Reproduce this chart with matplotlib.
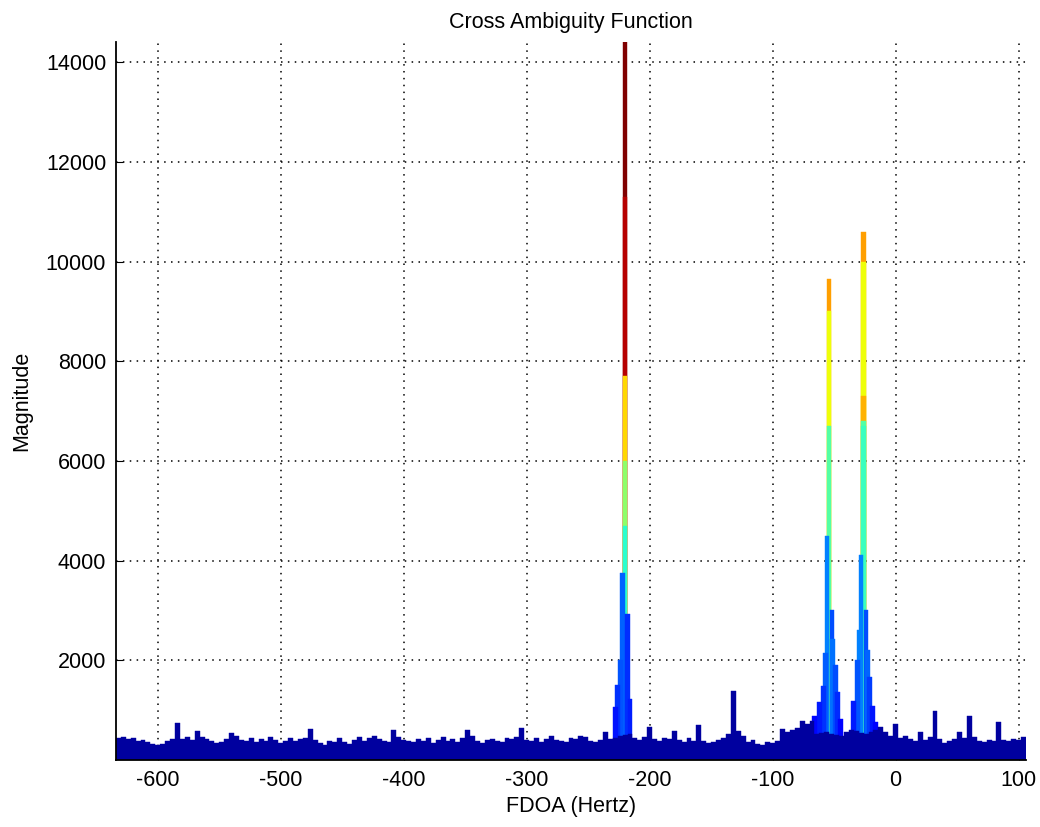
import numpy as np
import matplotlib.pyplot as plt
from matplotlib import colormaps

plt.rcParams['font.family'] = ['Liberation Sans', 'DejaVu Sans']
plt.rcParams['axes.unicode_minus'] = False

# noise floor, 4 Hz bins starting at -634 Hz
noise_start = -634
noise_step = 4
noise_mag = [
    440, 470, 420, 450, 380, 400, 360, 330, 300, 320, 380, 420, 750, 430, 470, 400, 580, 460, 420, 380,
    340, 360, 420, 540, 480, 400, 380, 440, 360, 420, 380, 460, 400, 340, 380, 440, 380, 420, 450, 620,
    400, 340, 300, 380, 360, 440, 360, 320, 400, 460, 380, 440, 480, 420, 380, 360, 600, 460, 400, 380,
    360, 420, 380, 440, 340, 400, 460, 380, 420, 360, 440, 600, 480, 380, 340, 400, 420, 380, 360, 440,
    420, 460, 640, 400, 380, 440, 360, 420, 480, 400, 380, 360, 440, 420, 480, 460, 380, 360, 400, 560,
    420, 440, 480, 500, 520, 440, 400, 460, 660, 420, 380, 440, 420, 580, 400, 360, 440, 380, 700, 380,
    340, 360, 400, 440, 520, 1380, 580, 480, 360, 400, 320, 300, 360, 340, 380, 620, 560, 600, 640, 780,
    720, 780, 520, 540, 560, 520, 500, 480, 560, 600, 580, 540, 520, 560, 600, 660, 560, 480, 720, 440,
    480, 420, 380, 560, 400, 460, 980, 420, 340, 380, 420, 560, 440, 880, 460, 380, 360, 400, 380, 760,
    400, 380, 420, 400, 460,
]

# skirts around the three peaks
skirt_freq = [-228, -226, -224, -216,
              -66, -62, -59, -57, -51, -49, -47, -45,
              -34, -31, -29, -23, -21, -19, -16]
skirt_mag = [1060, 1500, 2000, 1220,
             880, 1160, 1480, 2140, 2420, 1900, 1360, 820,
             1180, 2000, 2600, 2200, 1660, 1080, 760]

# narrow peak columns (stacked layers)
col_freq = [-220, -220, -220, -220, -220, -222, -218,
            -54, -54, -54, -56, -52,
            -26, -26, -26, -26, -26, -28, -24]
col_mag = [14600, 11300, 7700, 6000, 4700, 3760, 2920,
           9650, 9000, 6700, 4500, 3000,
           10600, 10000, 7300, 6800, 6700, 4120, 3000]
col_level = [1.0, 0.95, 0.68, 0.52, 0.40, 0.22, 0.17,
             0.74, 0.64, 0.45, 0.25, 0.2,
             0.74, 0.64, 0.72, 0.45, 0.42, 0.25, 0.2]

vmax = 14400
jet = colormaps['jet']

noise_freq = noise_start + noise_step * np.arange(len(noise_mag)) + noise_step / 2
freqs = np.concatenate([noise_freq, skirt_freq, col_freq])
mags = np.concatenate([noise_mag, skirt_mag, col_mag]).astype(float)
widths = np.concatenate([np.full(len(noise_mag), noise_step),
                         np.full(len(skirt_mag), 4.0),
                         np.full(len(col_mag), 3.5)])
levels = np.concatenate([np.full(len(noise_mag), 0.03),
                         0.07 + np.array(skirt_mag) / vmax,
                         col_level])
colors = jet(np.clip(levels, 0, 1))

order = np.argsort(-mags, kind='stable')

fig = plt.figure(figsize=(10.4, 8.27), dpi=100)
ax = fig.add_axes([0.1115, 0.081, 0.875, 0.868])
ax.set_axisbelow(True)
ax.bar(freqs[order], mags[order], width=widths[order], color=colors[order],
       edgecolor=colors[order], linewidth=0.3, align='center')

ax.set_xlim(-634, 106)
ax.set_ylim(0, 14400)
ax.set_xticks(np.arange(-600, 101, 100))
ax.set_yticks(np.arange(2000, 14001, 2000))
ax.grid(True, color='black', linestyle=(0, (1, 3.5)), linewidth=1.1)
ax.tick_params(direction='in', length=5, labelsize=15.5, pad=7, top=False, right=False)
for s in ['top', 'right']:
    ax.spines[s].set_visible(False)
ax.spines['left'].set_linewidth(1.3)
ax.spines['bottom'].set_linewidth(1.3)

ax.set_title('Cross Ambiguity Function', fontsize=15.5, pad=10)
ax.set_xlabel('FDOA (Hertz)', fontsize=15.5, labelpad=4)
ax.set_ylabel('Magnitude', fontsize=15.5, labelpad=10)

fig.savefig('out.png', dpi=100)
